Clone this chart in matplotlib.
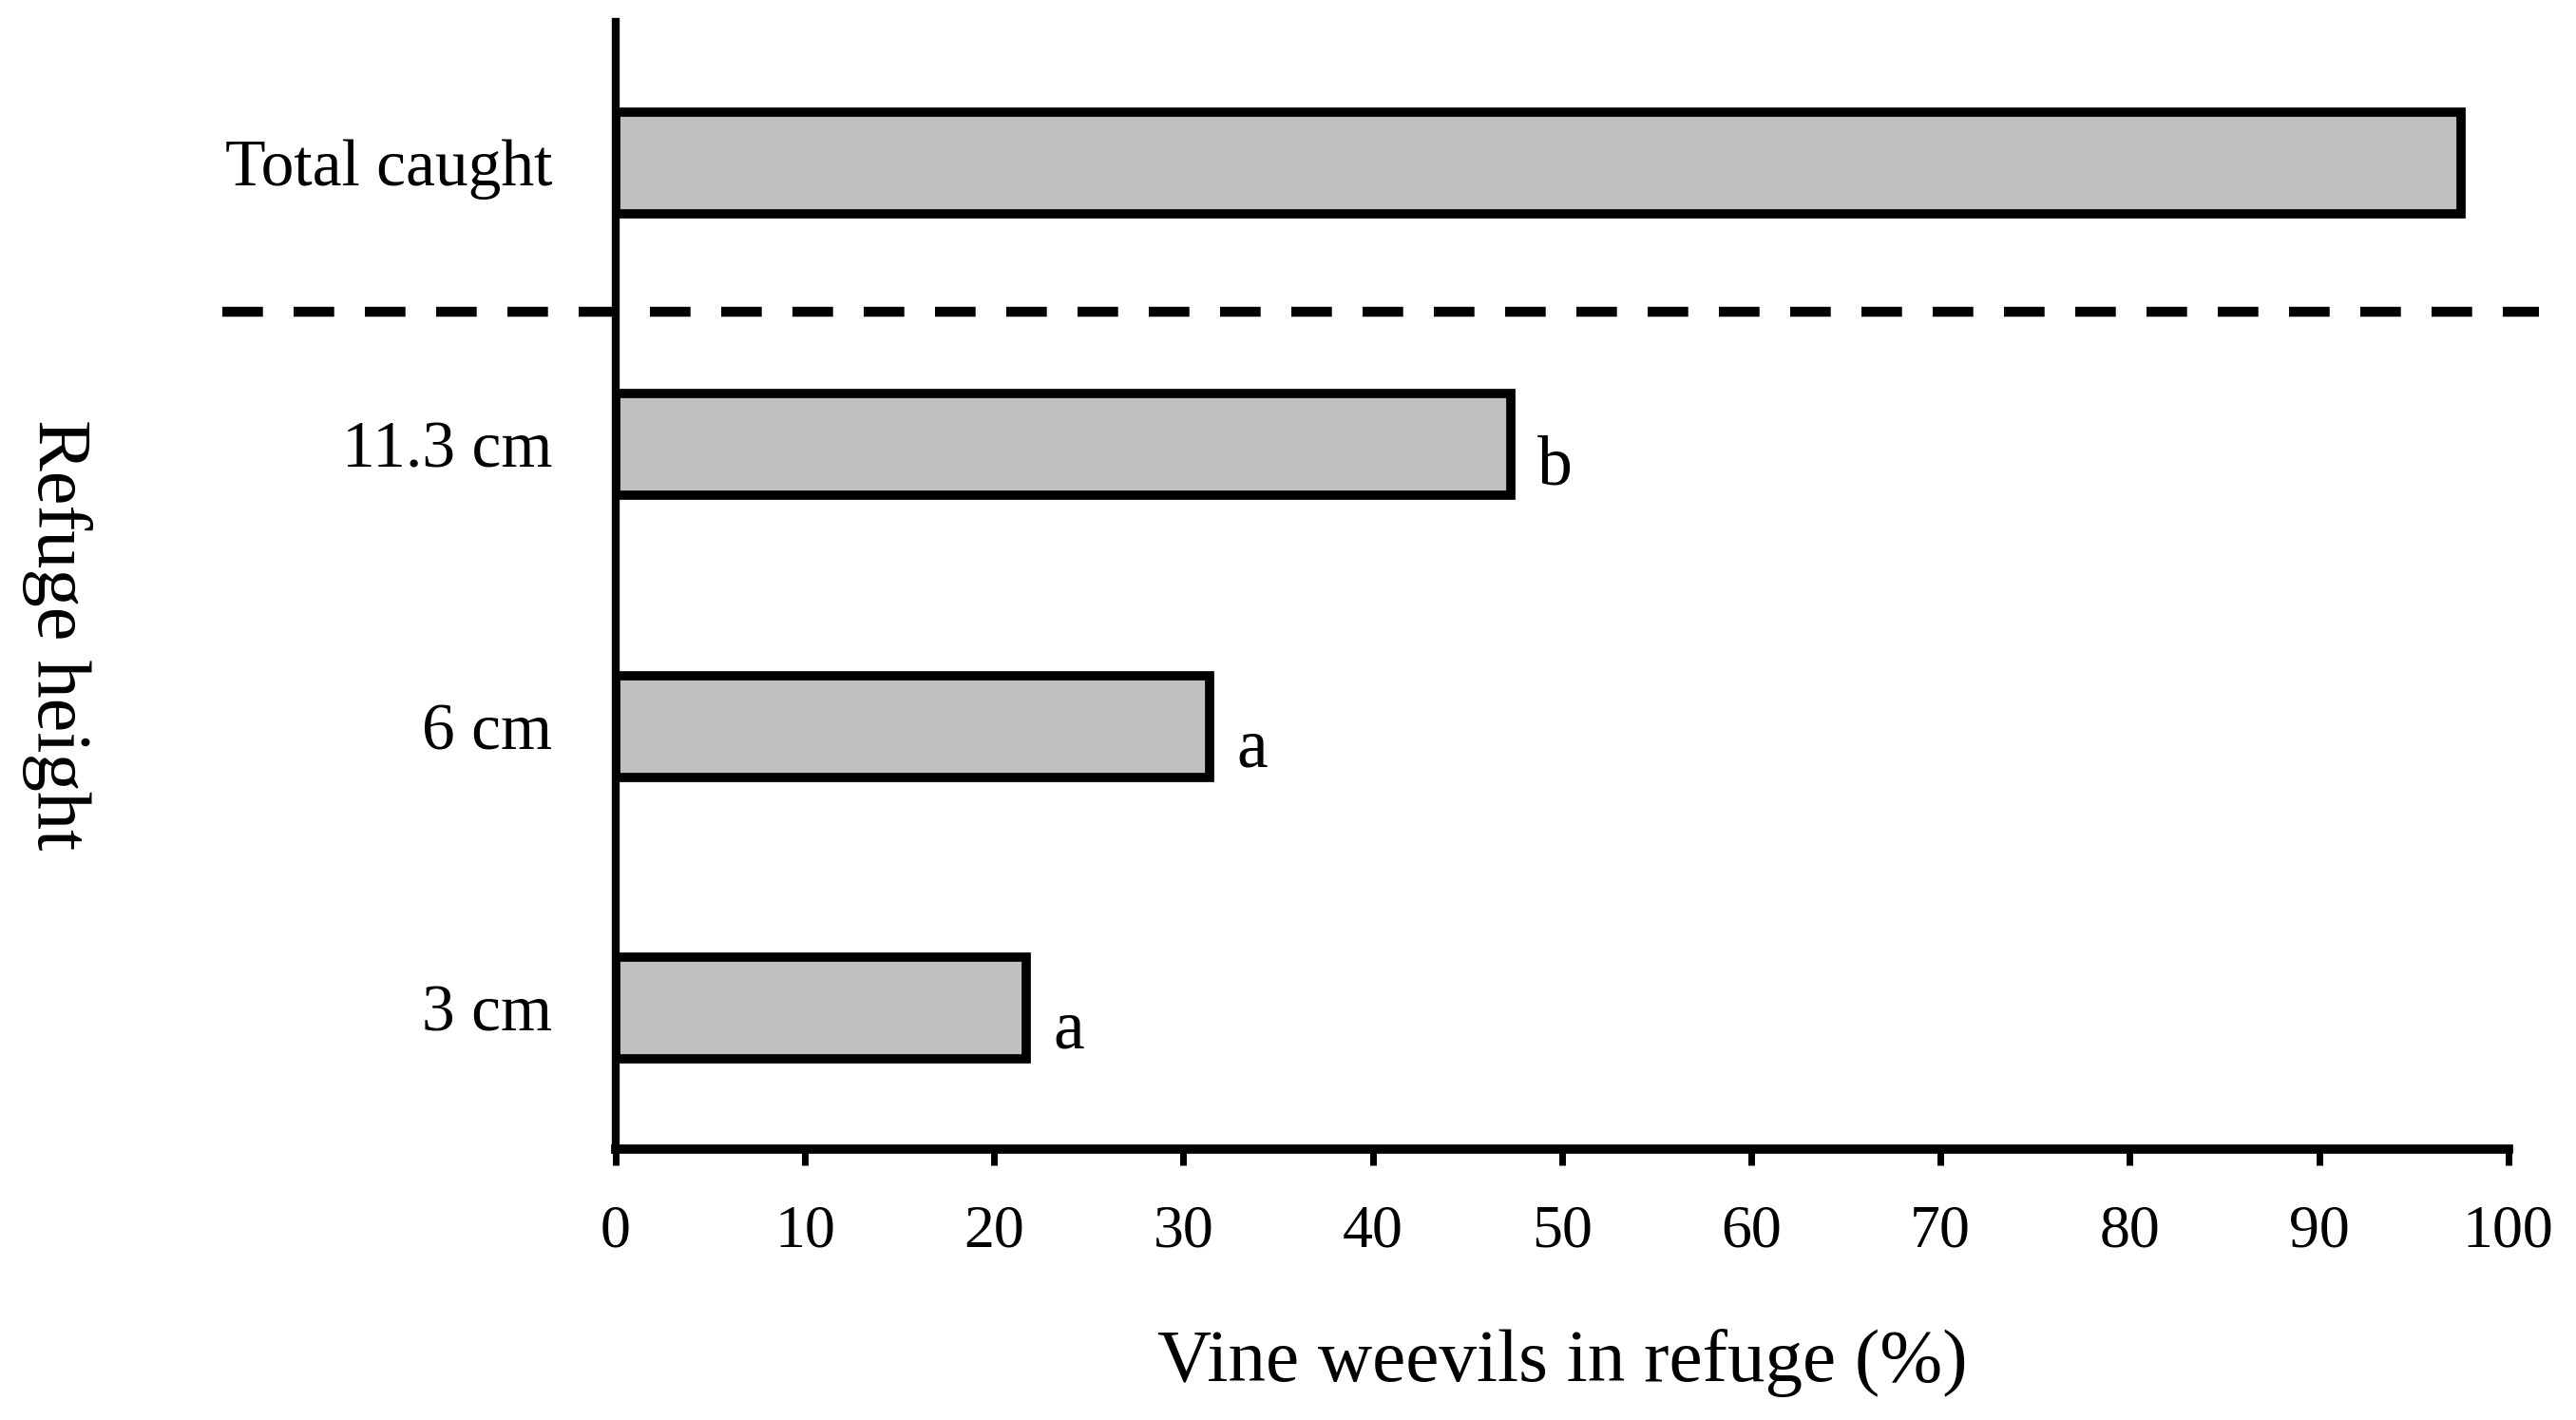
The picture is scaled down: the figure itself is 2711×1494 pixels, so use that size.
import numpy as np
import matplotlib.pyplot as plt

# values
categories = ["3 cm", "6 cm", "11.3 cm", "Total caught"]
percent = [21.7, 31.4, 47.3, 97.5]
letters = ["a", "a", "b", ""]
xticks = [0, 10, 20, 30, 40, 50, 60, 70, 80, 90, 100]

plt.rcParams["font.family"] = ["Liberation Serif", "DejaVu Serif"]

fig = plt.figure(figsize=(27.11, 14.94), dpi=100)
ax = fig.add_axes([0.2390, 0.1908, 0.7347, 0.7938])

ypos = np.arange(len(categories))
ax.barh(ypos, percent, height=0.36, color="#bfbfbf", edgecolor="black",
        linewidth=7, zorder=2)

for y, v, lab in zip(ypos, percent, letters):
    if lab:
        ax.annotate(lab, (v, y - 0.18), xytext=(20, 8), textcoords="offset points",
                    ha="left", va="baseline", fontsize=53)

# separator between total and the refuge heights
ax.plot([-0.208, 1.016], [2.47, 2.47], transform=ax.get_yaxis_transform(),
        color="black", linestyle=(0, (4.1, 3.1)), linewidth=7.5, clip_on=False)

ax.set_xlim(0, 100)
ax.set_ylim(-0.5, 3.5)
ax.set_xticks(xticks)
ax.set_xticklabels([str(t) for t in xticks], fontsize=46)
ax.set_yticks(ypos)
ax.set_yticklabels(categories, fontsize=50)

ax.spines["top"].set_visible(False)
ax.spines["right"].set_visible(False)
ax.spines["left"].set_linewidth(6)
ax.spines["bottom"].set_linewidth(7)
ax.tick_params(axis="x", direction="out", length=12, width=5, pad=30)
ax.tick_params(axis="y", length=0, pad=48)

ax.set_xlabel("Vine weevils in refuge (%)", fontsize=57, labelpad=52)
fig.text(0.022, 0.553, "Refuge height", rotation=-90, fontsize=58,
         ha="center", va="center")

fig.savefig("out.png", dpi=100, facecolor="white")
